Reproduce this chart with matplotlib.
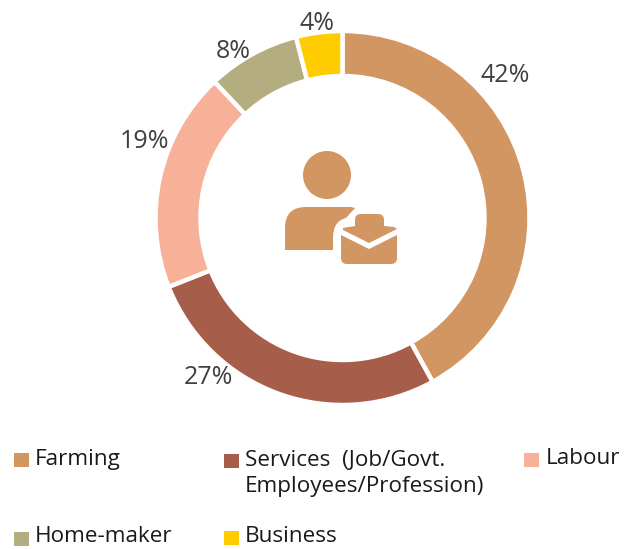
import matplotlib.pyplot as plt
from matplotlib.patches import Circle, PathPatch, Rectangle
from matplotlib.path import Path

plt.rcParams["font.family"] = ["Open Sans", "DejaVu Sans"]

W, H = 636, 549

categories = ["Farming", "Services  (Job/Govt.\nEmployees/Profession)", "Labour", "Home-maker", "Business"]
shares = [42, 27, 19, 8, 4]
colors = ["#d19661", "#a65e4a", "#f7b198", "#b3ad80", "#ffcc00"]
icon_color = "#d19661"


def y_(py):
    return H - py


def shape(points, **kw):
    # points in picture pixels, M/L/Q given by how many coordinates follow
    verts, codes = [], []
    for i, p in enumerate(points):
        if len(p) == 2:
            verts.append((p[0], y_(p[1])))
            codes.append(Path.MOVETO if i == 0 else Path.LINETO)
        else:
            verts += [(p[0], y_(p[1])), (p[2], y_(p[3]))]
            codes += [Path.CURVE3, Path.CURVE3]
    verts.append(verts[0])
    codes.append(Path.CLOSEPOLY)
    return PathPatch(Path(verts, codes), facecolor=icon_color, edgecolor="none", **kw)


fig = plt.figure(figsize=(W / 100, H / 100), dpi=100)
ax = fig.add_axes([0, 0, 1, 1])
ax.set_xlim(0, W)
ax.set_ylim(0, H)

ax.pie(shares, colors=colors, startangle=90, counterclock=False,
       center=(342.5, y_(218)), radius=187, frame=True,
       wedgeprops=dict(width=45, edgecolor="white", linewidth=3.2))
ax.set_xlim(0, W)
ax.set_ylim(0, H)
ax.axis("off")

# percent labels
label_pos = [(505, 75), (208, 377), (144, 141), (233, 51), (317, 24)]
for (x, y), s in zip(label_pos, shares):
    ax.text(x, y_(y), f"{s}%", ha="center", va="center", fontsize=18, color="#404040")

# centre icon
ax.add_patch(Circle((327, y_(175)), 24, facecolor=icon_color, edgecolor="none"))
ax.add_patch(shape([(285, 250), (285, 228), (285, 207, 306, 207), (351, 207), (355, 208),
                    (346, 218), (333, 221, 333, 238), (333, 250), (287, 250)]))
ax.add_patch(shape([(343, 228), (355, 226), (355, 220), (355, 214, 361, 214), (378, 214),
                    (384, 214, 384, 220), (384, 226), (394, 227), (397, 229),
                    (369, 243), (343, 230)]))
ax.add_patch(shape([(341, 235), (369, 249), (397, 235), (397, 258), (397, 264, 391, 264),
                    (347, 264), (341, 264, 341, 258)]))

# legend
leg_pos = [(14, 453, 35, 460), (224, 454, 245, 461), (524, 453, 546, 459),
           (14, 532, 35, 537), (224, 531, 245, 537)]
for (bx, by, tx, ty), name, c in zip(leg_pos, categories, colors):
    ax.add_patch(Rectangle((bx, y_(by + 14)), 15, 14, facecolor=c, edgecolor="none"))
    ax.text(tx, y_(ty - 11), name, ha="left", va="top", fontsize=16.2,
            color="#1a1a1a", linespacing=1.32)

fig.savefig("out.png", dpi=100)
